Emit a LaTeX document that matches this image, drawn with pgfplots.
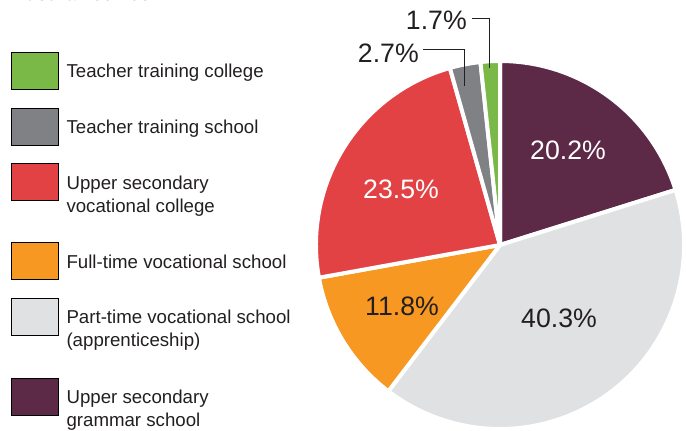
\documentclass[border=0pt]{standalone}
\usepackage{fontspec}
\setmainfont{Liberation Sans}
\usepackage{pgfplots}
\usepackage{pgfplotstable}
\pgfplotsset{compat=1.18}
\definecolor{cGreen}{RGB}{122,184,72}
\definecolor{cGray}{RGB}{128,129,133}
\definecolor{cRed}{RGB}{227,66,69}
\definecolor{cOrange}{RGB}{246,152,33}
\definecolor{cLight}{RGB}{224,225,227}
\definecolor{cPurple}{RGB}{92,41,71}
\definecolor{txt}{RGB}{35,31,32}

% shares in %, clockwise from 12 o'clock
\pgfplotstableread{
value col
20.2 cPurple
40.3 cLight
11.8 cOrange
23.5 cRed
2.7 cGray
1.7 cGreen
}\piedata

\begin{document}
\begin{tikzpicture}
\def\total{0}
\pgfplotsforeachungrouped \i in {0,...,5}{%
  \pgfplotstablegetelem{\i}{value}\of\piedata
  \pgfmathsetmacro\total{\total+\pgfplotsretval}}
\def\cum{90}
\pgfplotsforeachungrouped \i in {0,...,5}{%
  \pgfplotstablegetelem{\i}{value}\of\piedata
  \pgfmathsetmacro\nxt{\cum-\pgfplotsretval*360/\total}
  \expandafter\xdef\csname sa\i\endcsname{\cum}
  \expandafter\xdef\csname sb\i\endcsname{\nxt}
  \pgfplotstablegetelem{\i}{col}\of\piedata
  \expandafter\xdef\csname sc\i\endcsname{\pgfplotsretval}
  \xdef\cum{\nxt}}
\begin{axis}[
  width=514.5pt, height=322.5pt, scale only axis,
  xmin=0, xmax=686, ymin=0, ymax=430,
  hide axis,
  legend image code/.code={\fill[#1] (0pt,-8.5pt) rectangle (35.25pt,19.25pt);},
  legend cell align=left,
  legend style={at={(axis cs:11,378)}, anchor=north west, draw=none, fill=none,
    inner sep=0pt, outer sep=0pt, row sep=13.5pt,
    font=\fontsize{14}{17.25}\selectfont, text=txt,
    cells={anchor=base west},
    nodes={inner sep=0pt, text depth=, anchor=base west}},
  /tikz/every odd column/.append style={column sep=6pt},
]
\pgfplotsinvokeforeach{0,...,5}{%
  \edef\tmp{\noexpand\filldraw[fill=\csname sc#1\endcsname, draw=white, line width=3pt, line join=round]
    (axis cs:500,185) -- ++(\csname sa#1\endcsname:138pt)
    arc[start angle=\csname sa#1\endcsname, end angle=\csname sb#1\endcsname, radius=138pt] -- cycle;}
  \tmp}

\addlegendimage{fill=cGreen}
\addlegendentry{Teacher training college}
\addlegendimage{fill=cGray}
\addlegendentry{Teacher training school}
\addlegendimage{fill=cRed}
\addlegendentry{\parbox[t]{6cm}{Upper secondary\\vocational college\rule[-9.25pt]{0pt}{9.25pt}}}
\addlegendimage{fill=cOrange}
\addlegendentry{Full-time vocational school}
\addlegendimage{fill=cLight}
\addlegendentry{\parbox[t]{6cm}{Part-time vocational school\\(apprenticeship)\rule[-9.8pt]{0pt}{9.8pt}}}
\addlegendimage{fill=cPurple}
\addlegendentry{\parbox[t]{6cm}{Upper secondary\\grammar school}}

% title, mostly above the visible area as in the source
\node[anchor=base west, inner sep=0pt, text=txt, font=\fontsize{14}{17}\selectfont\bfseries]
  at (axis cs:12,429.5) {Austria 2007-08};
\begin{scope}[font=\fontsize{20}{24}\selectfont]
\node[anchor=base, text=white] at (axis cs:568,271) {20.2\%};
\node[anchor=base, text=white] at (axis cs:401,232) {23.5\%};
\node[anchor=base, text=txt] at (axis cs:402,115) {11.8\%};
\node[anchor=base, text=txt] at (axis cs:559,103) {40.3\%};
\node[anchor=base east, text=txt, inner sep=0pt] at (axis cs:419,368) {2.7\%};
\node[anchor=base east, text=txt, inner sep=0pt] at (axis cs:467,401) {1.7\%};
\end{scope}
\draw[line width=0.75pt, txt] (axis cs:423,381) -| (axis cs:464,344);
\draw[line width=0.75pt, txt] (axis cs:472,412) -| (axis cs:489,362);
\end{axis}
\pgfresetboundingbox
\useasboundingbox (current axis.south west) rectangle (current axis.north east);
\end{tikzpicture}
\end{document}
